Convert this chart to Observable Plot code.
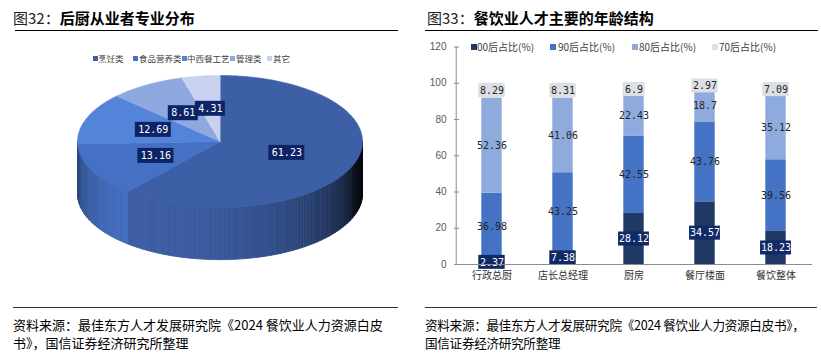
<!DOCTYPE html>
<html><head><meta charset="utf-8">
<script src="https://cdn.jsdelivr.net/npm/d3@7"></script>
<script src="https://cdn.jsdelivr.net/npm/@observablehq/plot@0.6"></script>
<style>
body{margin:0;background:#fff;font-family:"Noto Sans CJK SC",sans-serif;}
#wrap{position:relative;width:821px;height:355px;overflow:hidden;background:#fff;}
.abs{position:absolute;}
.title{font-size:15px;font-weight:bold;color:#000;top:7px;white-space:nowrap;line-height:22px;}
.title .pre{font-weight:normal;color:#222;}
.hline{height:0;border-top:1.5px solid #000;}
.fline{height:0;border-top:1px solid #333;}
.lg{font-size:10px;color:#404040;white-space:nowrap;line-height:12px;}
.lgl{font-size:8.5px;color:#404040;white-space:nowrap;line-height:12px;}
.sw{position:absolute;}
.foot{font-size:13px;line-height:18px;color:#000;white-space:nowrap;}
</style></head>
<body><div id="wrap">
<div class="abs title" style="left:13px"><span class="pre">图32：</span>后厨从业者专业分布</div>
<div class="abs title" style="left:427px"><span class="pre">图33：</span>餐饮业人才主要的年龄结构</div>
<div class="abs hline" style="left:15px;width:383px;top:30px"></div>
<div class="abs hline" style="left:425px;width:393px;top:30px"></div>
<div id="legL"></div><div id="legR"></div>
<div id="pie" class="abs" style="left:0;top:66px"></div>
<div id="bar" class="abs" style="left:410px;top:30px"></div>
<div class="abs fline" style="left:13px;width:385px;top:307px"></div>
<div class="abs fline" style="left:425px;width:392px;top:307px"></div>
<div class="abs foot" style="left:13px;top:316px">资料来源：最佳东方人才发展研究院《2024 餐饮业人力资源白皮<br>书》，国信证券经济研究所整理</div>
<div class="abs foot" style="left:425px;top:316px;font-size:12.6px;letter-spacing:-0.3px">资料来源：最佳东方人才发展研究院《2024 餐饮业人力资源白皮书》，<br>国信证券经济研究所整理</div>
</div>
<script>
// ---------- data ----------
const pieCats = ["烹饪类","食品营养类","中西餐工艺","管理类","其它"];
const pieValues = [61.23, 13.16, 12.69, 8.61, 4.31];
const pieColors = ["#3d5fa6","#4571c4","#5384da","#8fa8df","#c8d1f0"];

const barCats = ["行政总厨","店长总经理","厨房","餐厅楼面","餐饮整体"];
const barSeries = ["00后占比(%)","90后占比(%)","80后占比(%)","70后占比(%)"];
const v00 = [2.37, 7.38, 28.12, 34.57, 18.23];
const v90 = [36.98, 43.25, 42.55, 43.76, 39.56];
const v80 = [52.36, 41.06, 22.43, 18.7, 35.12];
const v70 = [8.29, 8.31, 6.9, 2.97, 7.09];
const barColors = ["#1f3864","#4472c4","#8faadc","#dcdfe4"];
const yTicks = [0, 20, 40, 60, 80, 100, 120];

// ---------- legends (HTML) ----------
const legL = document.getElementById("legL");
const lLeftSq = [93,133,182,230,267], lLeftTx = [98,139,187,236,273];
pieCats.forEach((c,i)=>{
  legL.insertAdjacentHTML("beforeend",
    `<div class="abs sw" style="left:${lLeftSq[i]}px;top:56px;width:5px;height:5px;background:${pieColors[i]}"></div>`+
    `<div class="abs lgl" style="left:${lLeftTx[i]}px;top:52px">${c}</div>`);
});
const legR = document.getElementById("legR");
const lRSq = [471,550,632,712], lRTx = [477,558,639,719];
barSeries.forEach((s,i)=>{
  legR.insertAdjacentHTML("beforeend",
    `<div class="abs sw" style="left:${lRSq[i]}px;top:44px;width:6px;height:6px;background:${barColors[i]}"></div>`+
    `<div class="abs lg" style="left:${lRTx[i]}px;top:41px">${s}</div>`);
});

// ---------- pie (3D) ----------
const total = d3.sum(pieValues);
let acc = 0;
const slices = pieValues.map((v,i)=>{
  const a0 = acc/total*2*Math.PI; acc += v; const a1 = acc/total*2*Math.PI;
  return {i, v, a0, a1, color: pieColors[i]};
});
const depth = 0.79;
function shade(hex, a){
  const deg = a*180/Math.PI;
  const d = deg - 210;
  let t = Math.cos((d < 0 ? d*0.9 : d*1.2)*Math.PI/180);
  t = Math.max(0, t);
  const f = 0.1 + 0.88*Math.pow(t, 0.55);
  const c = d3.rgb(hex);
  return d3.rgb(c.r*f, c.g*f, c.b*f).formatHex();
}
const sidePts = []; let q = 0;
slices.forEach(s=>{
  const lo = Math.max(s.a0, Math.PI/2), hi = Math.min(s.a1, 3*Math.PI/2);
  if (hi <= lo) return;
  const n = Math.ceil((hi-lo)/(Math.PI/120));
  for (let j=0;j<n;j++){
    const a = lo+(hi-lo)*j/n, b = lo+(hi-lo)*(j+1)/n;
    const c = shade(s.color, (a+b)/2);
    const pts = [[a,0],[b,0],[b,depth],[a,depth]];
    pts.forEach(([ang,dd])=>sidePts.push({q, c, x: Math.sin(ang), y: -Math.cos(ang)+dd}));
    q++;
  }
});
const topMarks = slices.map(s=>{
  const n = Math.max(2, Math.ceil((s.a1-s.a0)/(Math.PI/180)));
  const pts = [{x:0,y:0}];
  for (let j=0;j<=n;j++){ const a = s.a0+(s.a1-s.a0)*j/n; pts.push({x:Math.sin(a), y:-Math.cos(a)}); }
  return Plot.line(pts, {x:"x", y:"y", fill: s.color, stroke: s.color, strokeWidth: 0.6, curve: "linear-closed"});
});
const RXpx = 142.5, RYpx = 66;
const pieLabels = slices.map(s=>{
  const m = (s.a0+s.a1)/2;
  const txt = String(s.v);
  const w = (txt.length*6 + 6)/2/RXpx, h = 7.5/RYpx;
  const x = 0.5*Math.sin(m), y = -0.5*Math.cos(m);
  return {txt, x, y, x1: x-w, x2: x+w, y1: y-h, y2: y+h};
});
const pie = Plot.plot({
  width: 400, height: 224,
  x: {domain: [-1, 1], range: [77, 362], axis: null},
  y: {domain: [-1, 1], range: [9, 141], axis: null},
  color: {type: "identity"},
  style: {background: "transparent", overflow: "visible"},
  marks: [
    Plot.line(sidePts, {x:"x", y:"y", z:"q", fill: d=>d.c, stroke: d=>d.c, strokeWidth: 0.8, curve: "linear-closed"}),
    ...topMarks,
    Plot.rect(pieLabels, {x1:"x1", x2:"x2", y1:"y1", y2:"y2", fill:"#0c2466"}),
    Plot.text(pieLabels, {x:"x", y:"y", text:"txt", fill:"white", fontSize: 10, fontFamily:"DejaVu Sans Mono"})
  ]
});
document.getElementById("pie").append(pie);

// ---------- stacked bars ----------
const seriesVals = [v00, v90, v80, v70];
const long = [];
barCats.forEach((c,ci)=>{
  let base = 0;
  barSeries.forEach((s,si)=>{
    const v = seriesVals[si][ci];
    long.push({cat:c, series:s, si, value:v, mid: base + v/2, txt: String(v)});
    base += v;
  });
});
const W = 411, H = 260, mL = 44, mR = 9, mT = 16.5, mB = 26;
const step = (W - mL - mR)/barCats.length;
const barW = 21, inset = (step - barW)/2;
const pxPerUnit = (H - mT - mB)/120;
const bh = 14/pxPerUnit;
const boxLabels = long.filter(d=>d.si===0 || d.si===3);
const boxMarks = d3.groups(boxLabels, d=>d.si, d=>d.txt.length).flatMap(([si, g])=>
  g.map(([len, arr])=>{
    const bw = 4.5*len + 9;
    const ins = (step - bw)/2;
    return Plot.barY(arr, {x:"cat", y1: d=>d.mid-bh/2, y2: d=>d.mid+bh/2,
      fill: si===0 ? "#102a66" : "#dcdfe4", insetLeft: ins, insetRight: ins});
  }));
const bar = Plot.plot({
  width: W, height: H, marginLeft: mL, marginRight: mR, marginTop: mT, marginBottom: mB,
  x: {type: "band", domain: barCats, padding: 0},
  y: {domain: [0, 120]},
  color: {domain: barSeries, range: barColors},
  style: {background: "transparent", overflow: "visible", fontFamily: "Liberation Sans, Arial, sans-serif"},
  marks: [
    Plot.barY(long, {x:"cat", y:"value", fill:"series", insetLeft: inset, insetRight: inset}),
    ...boxMarks,
    Plot.text(long.filter(d=>d.si===0), {x:"cat", y:"mid", text:"txt", fill:"white", fontSize: 10, fontFamily:"DejaVu Sans Mono"}),
    Plot.text(long.filter(d=>d.si!==0), {x:"cat", y:"mid", text:"txt", fill:"#262626", fontSize: 10, fontFamily:"DejaVu Sans Mono"}),
    Plot.ruleY([0], {stroke:"#8c8c8c"}),
    Plot.ruleX([barCats[0]], {y1: 0, y2: 120, dx: -step/2, stroke:"#8c8c8c"}),
    Plot.tickY(yTicks, {y: d=>d, insetRight: W - mL - mR - 5, stroke:"#8c8c8c"}),
    Plot.axisY({ticks: yTicks, tickSize: 0, tickPadding: 8, fill:"#595959", fontSize: 10, label: null}),
    Plot.axisX({tickSize: 0, tickPadding: 7, fill:"#333", fontSize: 10, fontFamily: "Noto Sans CJK SC", label: null})
  ]
});
document.getElementById("bar").append(bar);
</script>
</body></html>
